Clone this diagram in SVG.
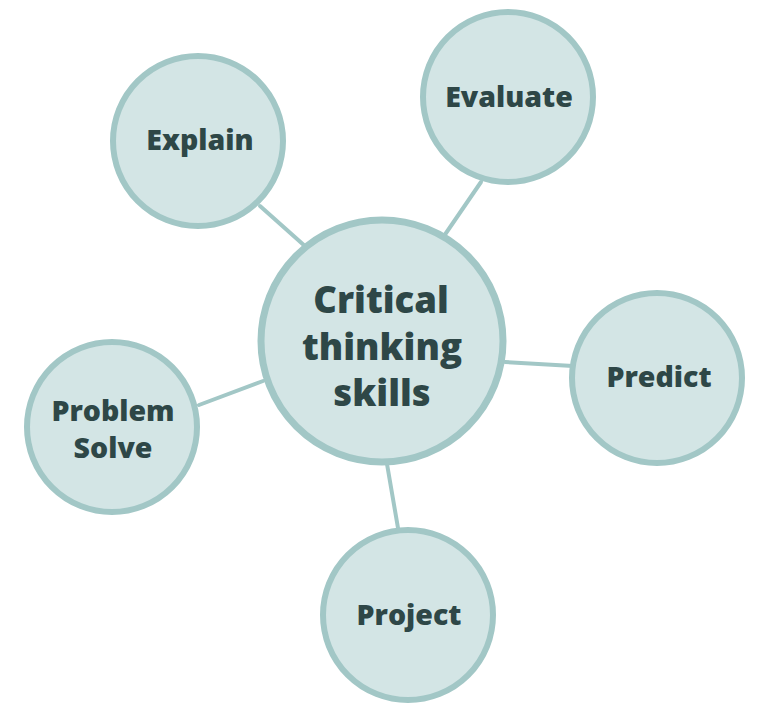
<svg xmlns="http://www.w3.org/2000/svg" width="757" height="714" viewBox="0 0 757 714">
<style>
.node{fill:#d3e5e5;stroke:#a2c7c6;stroke-width:6}
.hub{fill:#d3e5e5;stroke:#a2c7c6;stroke-width:7}
.lbl{font-family:"Open Sans","Liberation Sans",sans-serif;font-weight:800;fill:#2e4747;text-anchor:middle;font-size:28.5px}
.hubl{font-size:36.5px}
.conn line{stroke:#a2c7c6;stroke-width:4;stroke-linecap:round}
</style>
<rect width="757" height="714" fill="#ffffff"/>
<g id="connectors" class="conn">
<line x1="260" y1="206" x2="306" y2="247"/>
<line x1="481" y1="182" x2="444" y2="236"/>
<line x1="505" y1="362" x2="573" y2="366"/>
<line x1="199" y1="405" x2="263" y2="381"/>
<line x1="387" y1="464" x2="398" y2="528"/>
</g>
<g id="node-critical">
<circle class="hub" cx="382" cy="341" r="121"/>
<text class="lbl hubl" x="381" y="313">Critical</text>
<text class="lbl hubl" x="382" y="360">thinking</text>
<text class="lbl hubl" x="382" y="406">skills</text>
</g>
<g id="node-explain">
<circle class="node" cx="198" cy="141" r="85"/>
<text class="lbl" x="200" y="150">Explain</text>
</g>
<g id="node-evaluate">
<circle class="node" cx="508" cy="97" r="85"/>
<text class="lbl" x="509" y="107">Evaluate</text>
</g>
<g id="node-predict">
<circle class="node" cx="657" cy="378" r="85"/>
<text class="lbl" x="659" y="387">Predict</text>
</g>
<g id="node-problem-solve">
<circle class="node" cx="112" cy="427" r="85"/>
<text class="lbl" x="113" y="421">Problem</text>
<text class="lbl" x="113" y="458">Solve</text>
</g>
<g id="node-project">
<circle class="node" cx="408" cy="615" r="85"/>
<text class="lbl" x="409" y="625">Project</text>
</g>
</svg>
